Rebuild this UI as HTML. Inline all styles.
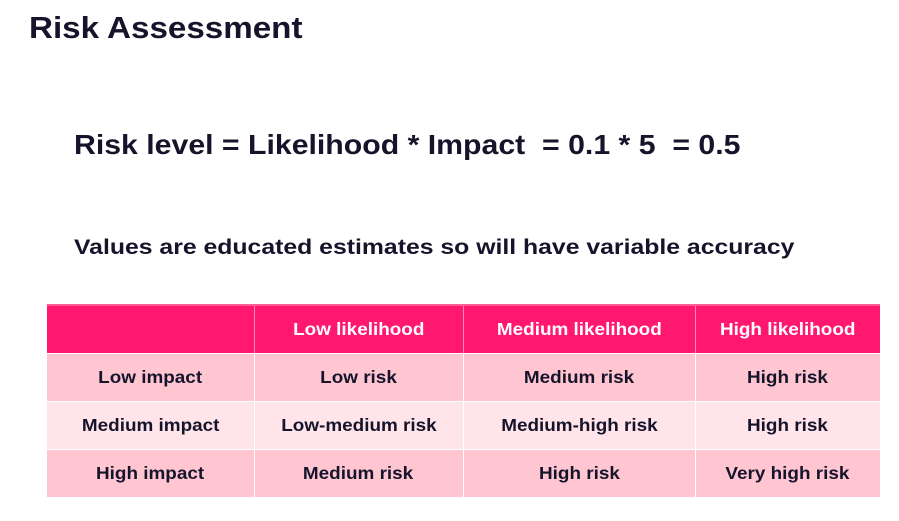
<!DOCTYPE html>
<html><head><meta charset="utf-8"><style>
body{margin:0;width:899px;height:521px;background:#fff;font-family:"Liberation Sans",sans-serif;color:#15142b;position:relative;overflow:hidden}
.t{position:absolute;font-weight:bold;white-space:nowrap;transform-origin:0 0}
table{position:absolute;left:47px;top:304px;border-collapse:collapse;border-top:2px solid #ff5a92}
td{height:47px;text-align:center;font-size:17.5px;font-weight:bold;border-left:1px solid #fff;border-bottom:1px solid #fff;padding:0}
td span{display:inline-block;transform:scaleX(1.08)}
td:first-child{border-left:none}
tr.h td{background:#ff1770;color:#fff;border-left:1px solid #ff8ab4}
tr.h td:first-child{border-left:none}
tr.a td{background:#ffc6d2}
tr.b td{background:#ffe4ea}
</style></head><body>
<div class="t" style="left:29px;top:10px;font-size:31px;transform:scaleX(1.07)">Risk Assessment</div>
<div class="t" style="left:74px;top:129px;font-size:28px;transform:scaleX(1.08)">Risk level = Likelihood * Impact &nbsp;= 0.1 * 5 &nbsp;= 0.5</div>
<div class="t" style="left:74px;top:236px;font-size:21px;transform:scaleX(1.18)">Values are educated estimates so will have variable accuracy</div>
<table>
<colgroup><col style="width:207px"><col style="width:209px"><col style="width:232px"><col style="width:185px"></colgroup>
<tr class="h"><td></td><td><span>Low likelihood</span></td><td><span>Medium likelihood</span></td><td><span>High likelihood</span></td></tr>
<tr class="a"><td><span>Low impact</span></td><td><span>Low risk</span></td><td><span>Medium risk</span></td><td><span>High risk</span></td></tr>
<tr class="b"><td><span>Medium impact</span></td><td><span>Low-medium risk</span></td><td><span>Medium-high risk</span></td><td><span>High risk</span></td></tr>
<tr class="a"><td><span>High impact</span></td><td><span>Medium risk</span></td><td><span>High risk</span></td><td><span>Very high risk</span></td></tr>
</table>
</body></html>
